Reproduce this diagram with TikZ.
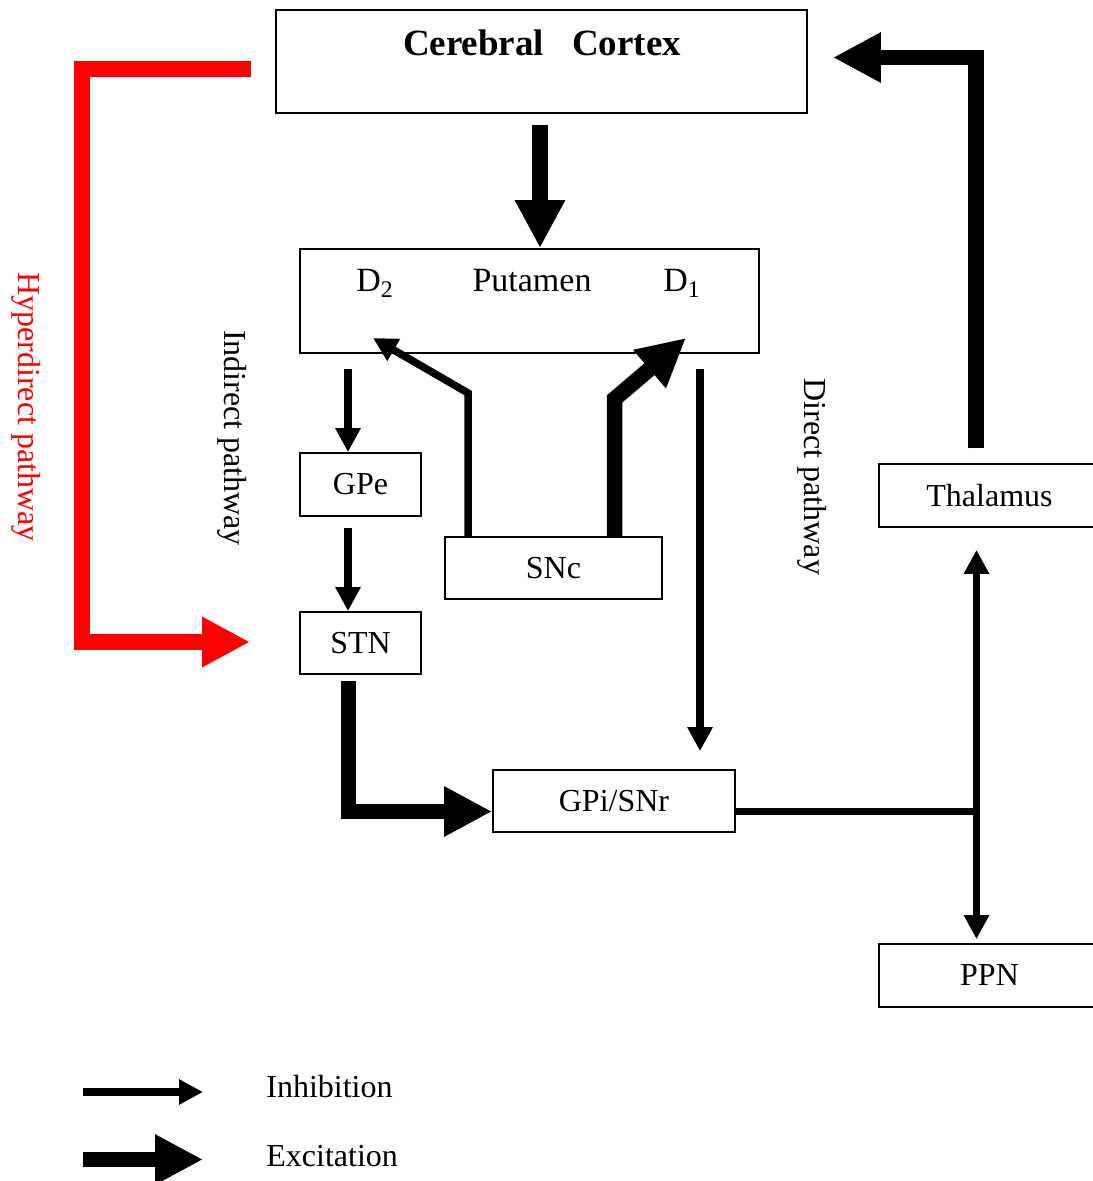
\documentclass[tikz,border=0pt]{standalone}
\usepackage{fontspec}
\setmainfont{Liberation Serif}
\usetikzlibrary{arrows.meta}
\begin{document}
\begin{tikzpicture}[x=0.5pt,y=-0.5pt,
  every node/.style={font=\fontsize{16}{19}\selectfont},
  box/.style={draw, line width=0.9pt, inner sep=0pt},
  lbl/.style={inner sep=0pt},
  inh/.style={line width=3.75pt, -{Triangle[length=12pt,width=12pt]}},
  exc/.style={line width=7.75pt, -{Triangle[length=24pt,width=23.5pt]}},
  plain/.style={line width=3.75pt}]
\useasboundingbox (0,0) rectangle (1092,1181);

% boxes
\node[box, minimum width=265.5pt, minimum height=51.5pt] (cortex) at (541.5,61.5) {};
\node[lbl, anchor=base, font=\fontsize{18.5}{22}\selectfont\bfseries] (cortextxt) at (542,56) {Cerebral\hspace{14pt}Cortex};
\node[box, minimum width=229.5pt, minimum height=52pt] (putamen) at (529.5,301) {};
\node[lbl, anchor=base, font=\fontsize{17}{20}\selectfont] (putxt) at (532,292) {Putamen};
\node[lbl, anchor=base west, font=\fontsize{17}{20}\selectfont] (d2) at (356,292) {D\textsubscript{2}};
\node[lbl, anchor=base west, font=\fontsize{17}{20}\selectfont] (d1) at (663,292) {D\textsubscript{1}};
\node[box, minimum width=60.5pt, minimum height=31.5pt] (gpe) at (360.5,484.5) {GPe};
\node[box, minimum width=108.5pt, minimum height=31pt] (snc) at (553.5,568) {SNc};
\node[box, minimum width=60.5pt, minimum height=31pt] (stn) at (360.5,643) {STN};
\node[box, minimum width=121pt, minimum height=31pt] (gpi) at (614,801) {GPi/SNr};
\node[box, minimum width=110.5pt, minimum height=31.5pt] (thal) at (989.5,495.5) {Thalamus};
\node[box, minimum width=110.5pt, minimum height=31.5pt] (ppn) at (989.5,975.5) {PPN};

% pathway labels
\node[rotate=-90, text=red] (hyp) at (26,407) {Hyperdirect pathway};
\node[rotate=-90] (indir) at (232,438) {Indirect pathway};
\node[rotate=-90] (dir) at (812,477) {Direct pathway};

% coordinates
\coordinate (c1) at (540,125);
\coordinate (a1) at (348,369);
\coordinate (a2) at (348,528);
\coordinate (d2bend) at (468,393);
\coordinate (d2tip) at (373,338);
\coordinate (d1bend) at (614.5,399);
\coordinate (d1tip) at (686,338);
\coordinate (a3) at (700,369);
\coordinate (a4) at (348.5,681);
\coordinate (stncorner) at (348.5,811.5);
\coordinate (junc) at (976.5,811.5);
\coordinate (tb) at (976,57.5);
\coordinate (h1) at (82,69);
\coordinate (h2) at (82,642);

% connectors
\draw[exc] (c1) -- (c1 |- putamen.north);
\draw[inh] (a1) -- (a1 |- gpe.north);
\draw[inh] (a2) -- (a2 |- stn.north);
\draw[inh] (d2bend |- snc.north) -- (d2bend) -- (d2tip);
\draw[exc] (d1bend |- snc.north) -- (d1bend) -- (d1tip);
\draw[inh, shorten >=9pt] (a3) -- (a3 |- gpi.north);
\draw[exc] (a4) -- (stncorner) -- (stncorner -| gpi.west);
\draw[plain] (gpi.east |- junc) -- (junc);
\draw[inh, shorten >=11pt] (junc) -- (junc |- thal.south);
\draw[inh, shorten >=2pt] (junc) -- (junc |- ppn.north);
\draw[exc, shorten <=7.5pt, shorten >=12.5pt] (tb |- thal.north) -- (tb) -- (cortex.east |- tb);
\draw[exc, red, shorten <=12pt, shorten >=24.5pt] (cortex.west |- h1) -- (h1) -- (h2) -- (stn.west |- h2);

% legend
\coordinate (li1) at (83,1092);
\coordinate (li2) at (203,1092);
\coordinate (le1) at (83,1159.5);
\coordinate (le2) at (203,1159.5);
\draw[inh] (li1) -- (li2);
\draw[exc] (le1) -- (le2);
\node[lbl, anchor=base west] (inhtxt) at (266,1097) {Inhibition};
\node[lbl, anchor=base west] (exctxt) at (266,1166) {Excitation};
\end{tikzpicture}
\end{document}
